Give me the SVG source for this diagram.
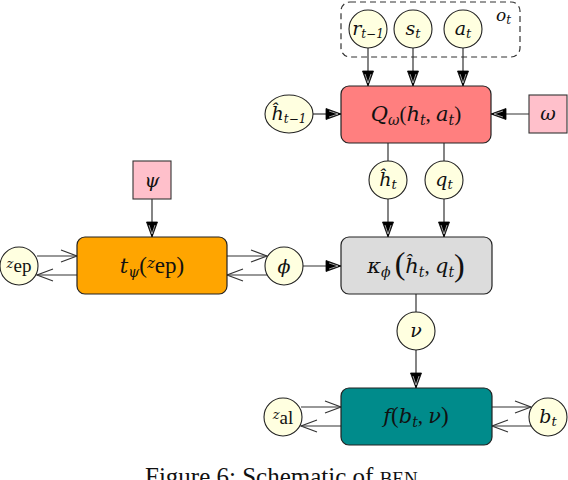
<svg xmlns="http://www.w3.org/2000/svg" width="568" height="480" viewBox="0 0 568 480">
<defs>
<marker id="tri" markerUnits="userSpaceOnUse" markerWidth="18" markerHeight="14" viewBox="-17 -7 18 14" refX="0" refY="0" orient="auto">
<path d="M-15,-5.5 L0,0 L-15,5.5 Z" fill="#000" stroke="#000" stroke-width="0.8"/>
<path d="M-12,-3 L-3,0 M-12,3 L-3,0" stroke="#fff" stroke-width="0.6" fill="none"/>
</marker>
<marker id="open" markerUnits="userSpaceOnUse" markerWidth="18" markerHeight="16" viewBox="-17 -8 18 16" refX="0" refY="0" orient="auto">
<path d="M-16,-6 L0,0 L-16,6" fill="none" stroke="#333" stroke-width="1.2"/>
</marker>
</defs>
<style>
.box{stroke:#222;stroke-width:1.2}
.var{fill:#FFFFE0;stroke:#222;stroke-width:1.1}
.par{fill:#FFC0CB;stroke:#333;stroke-width:1.1}
.ln{stroke:#333;stroke-width:1.2;fill:none}
.a{marker-end:url(#tri)}
.o{marker-end:url(#open)}
text{font-family:"Liberation Serif","DejaVu Serif",serif;fill:#111}
.m{font-family:"DejaVu Serif","Liberation Serif",serif;font-style:italic}
.lab{font-size:21px;text-anchor:middle}
.cl{font-size:19px;text-anchor:middle}
</style>

<g id="connectors">
<line class="ln a" x1="368" y1="48" x2="368" y2="86"/>
<line class="ln a" x1="413" y1="48" x2="413" y2="86"/>
<line class="ln a" x1="463" y1="48" x2="463" y2="86"/>
<line class="ln a" x1="313" y1="114" x2="341" y2="114"/>
<line class="ln a" x1="529" y1="114" x2="491" y2="114"/>
<line class="ln" x1="388" y1="143" x2="388" y2="161"/>
<line class="ln" x1="444" y1="143" x2="444" y2="161"/>
<line class="ln a" x1="388" y1="199" x2="388" y2="237"/>
<line class="ln a" x1="444" y1="199" x2="444" y2="237"/>
<line class="ln a" x1="152" y1="199" x2="152" y2="237"/>
<line class="ln a" x1="303" y1="266" x2="341" y2="266"/>
<line class="ln" x1="416" y1="294" x2="416" y2="312"/>
<line class="ln a" x1="416" y1="350" x2="416" y2="388"/>
<line class="ln o" x1="37" y1="256" x2="77" y2="256"/>
<line class="ln o" x1="77" y1="275" x2="37" y2="275"/>
<line class="ln o" x1="227" y1="256" x2="267" y2="256"/>
<line class="ln o" x1="267" y1="275" x2="227" y2="275"/>
<line class="ln o" x1="301" y1="407" x2="341" y2="407"/>
<line class="ln o" x1="341" y1="426" x2="301" y2="426"/>
<line class="ln o" x1="492" y1="407" x2="531" y2="407"/>
<line class="ln o" x1="531" y1="426" x2="492" y2="426"/>
</g>

<g id="obs">
<rect x="341" y="2" width="179" height="55" rx="9" fill="none" stroke="#333" stroke-width="1.2" stroke-dasharray="6,4"/>
<text x="496" y="21" font-size="17" class="m">o<tspan font-size="12" dy="3">t</tspan></text>
</g>
<g id="r">
<circle class="var" cx="368" cy="29" r="19"/>
<text x="368" y="35" class="cl m" font-size="17">r<tspan font-size="12" dy="3">t−1</tspan></text>
</g>
<g id="s">
<circle class="var" cx="413" cy="29" r="19"/>
<text x="413" y="35" class="cl m">s<tspan font-size="13" dy="3">t</tspan></text>
</g>
<g id="a">
<circle class="var" cx="463" cy="29" r="19"/>
<text x="463" y="35" class="cl m">a<tspan font-size="13" dy="3">t</tspan></text>
</g>
<g id="Q">
<rect class="box" x="341" y="86" width="150" height="57" rx="8" fill="#FF7F7F"/>
<text x="416" y="121" class="lab"><tspan class="m">Q</tspan><tspan class="m" font-size="14" dy="4">ω</tspan><tspan dy="-4">(</tspan><tspan class="m">h</tspan><tspan class="m" font-size="14" dy="4">t</tspan><tspan dy="-4">, </tspan><tspan class="m">a</tspan><tspan class="m" font-size="14" dy="4">t</tspan><tspan dy="-4">)</tspan></text>
</g>
<g id="hprev">
<ellipse class="var" cx="289" cy="114" rx="24" ry="19"/>
<text x="289" y="120" class="cl m" font-size="17">ĥ<tspan font-size="12" dy="3">t−1</tspan></text>
</g>
<g id="omega">
<rect class="par" x="529" y="95" width="38" height="38"/>
<text x="548" y="120" class="cl m" font-size="21">ω</text>
</g>
<g id="ht">
<circle class="var" cx="388" cy="180" r="19"/>
<text x="388" y="186" class="cl m">ĥ<tspan font-size="13" dy="3">t</tspan></text>
</g>
<g id="qt">
<circle class="var" cx="444" cy="180" r="19"/>
<text x="444" y="186" class="cl m">q<tspan font-size="13" dy="3">t</tspan></text>
</g>
<g id="kappa">
<rect class="box" x="341" y="237" width="151" height="57" rx="8" fill="#DCDCDC"/>
<text x="416" y="273" class="lab"><tspan class="m">κ</tspan><tspan class="m" font-size="14" dy="4">ϕ</tspan><tspan dy="-3" font-size="32" dx="4" font-family="Liberation Serif">(</tspan><tspan class="m" dy="-1">ĥ</tspan><tspan class="m" font-size="14" dy="4">t</tspan><tspan dy="-4">, </tspan><tspan class="m">q</tspan><tspan class="m" font-size="14" dy="4">t</tspan><tspan dy="-1" font-size="32" font-family="Liberation Serif">)</tspan></text>
</g>
<g id="psi">
<rect class="par" x="133" y="161" width="38" height="38"/>
<text x="152" y="187" class="cl m" font-size="21">ψ</text>
</g>
<g id="t">
<rect class="box" x="77" y="237" width="150" height="57" rx="8" fill="#FFA500"/>
<text x="152" y="273" class="lab"><tspan class="m">t</tspan><tspan class="m" font-size="14" dy="4">ψ</tspan><tspan dy="-4" font-size="23">(</tspan><tspan class="m" font-size="15" dy="-5">z</tspan><tspan dy="5" font-size="23">ep)</tspan></text>
</g>
<g id="zep">
<circle class="var" cx="19" cy="266" r="19"/>
<text x="19" y="272" class="cl" font-size="20"><tspan class="m" font-size="13" dy="-4">z</tspan><tspan dy="4">ep</tspan></text>
</g>
<g id="phi">
<circle class="var" cx="284" cy="266" r="19"/>
<text x="284" y="273" class="cl m" font-size="21">ϕ</text>
</g>
<g id="nu">
<circle class="var" cx="416" cy="331" r="19"/>
<text x="416" y="337" class="cl m" font-size="20">ν</text>
</g>
<g id="f">
<rect class="box" x="341" y="388" width="151" height="57" rx="8" fill="#008B8B"/>
<text x="416" y="423" class="lab"><tspan class="m">f</tspan><tspan font-size="23">(</tspan><tspan class="m">b</tspan><tspan class="m" font-size="14" dy="4">t</tspan><tspan dy="-4">, </tspan><tspan class="m">ν</tspan><tspan font-size="23">)</tspan></text>
</g>
<g id="zal">
<circle class="var" cx="283" cy="417" r="19"/>
<text x="283" y="424" class="cl" font-size="20"><tspan class="m" font-size="13" dy="-5">z</tspan><tspan dy="5">al</tspan></text>
</g>
<g id="bt">
<circle class="var" cx="548" cy="417" r="19"/>
<text x="548" y="423" class="cl m">b<tspan font-size="13" dy="3">t</tspan></text>
</g>
<text x="145" y="485" font-size="25">Figure 6: Schematic of <tspan font-size="19">BEN</tspan></text>
</svg>
